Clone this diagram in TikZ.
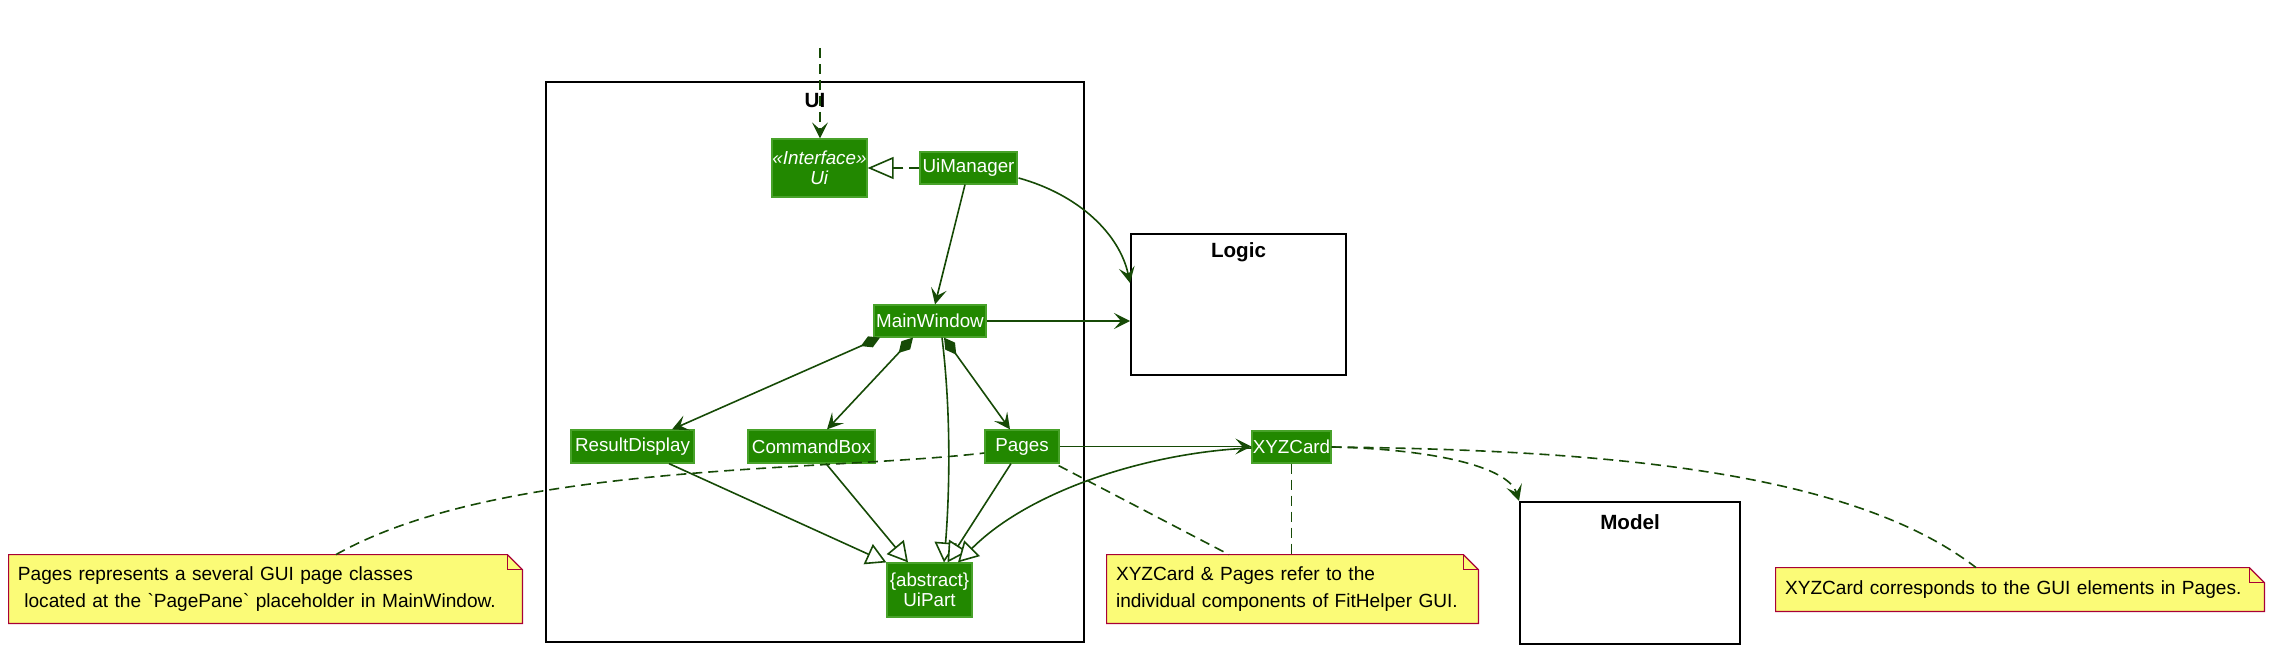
\documentclass[tikz,border=0pt]{standalone}
\usepackage{fontspec}
\setmainfont{Liberation Sans}
\usetikzlibrary{arrows.meta,calc,backgrounds}
\definecolor{umlfill}{RGB}{34,136,0}
\definecolor{umlborder}{RGB}{72,162,42}
\definecolor{arrowc}{RGB}{22,74,6}
\definecolor{notefill}{RGB}{251,251,119}
\definecolor{noteborder}{RGB}{168,0,54}
\begin{document}
\begin{tikzpicture}[x=0.5pt,y=-0.5pt,
  cls/.style={fill=umlfill, draw=umlborder, line width=0.6pt, text=white, inner sep=0pt, align=center, font=\fontsize{9.4}{10}\selectfont},
  pkg/.style={draw=black, line width=1pt, inner sep=0pt},
  pkgtitle/.style={font=\bfseries\fontsize{10.3}{12}\selectfont, inner sep=0pt},
  note/.style={inner xsep=4.5pt, inner ysep=0pt, align=left, font=\fontsize{9.55}{13.3}\selectfont, text=black},
  notebg/.style={fill=notefill, draw=noteborder, line width=0.6pt},
  conn/.style={draw=arrowc, line width=0.8pt},
  dep/.style={conn, dash pattern=on 5pt off 3pt},
  opentip/.style={-{Stealth[length=8pt,width=8pt,inset=3.5pt]}},
  inh/.style={-{Triangle[open,length=10pt,width=11pt,fill=white]}},
  real/.style={-{Triangle[open,length=13pt,width=11pt,fill=white]}},
  comp/.style={{Diamond[length=10.5pt,width=6pt]}-{Stealth[length=8pt,width=8pt,inset=3.5pt]}}
]
\useasboundingbox (0,0) rectangle (2280,658);

% packages
\node[pkg, minimum width=269pt, minimum height=280pt] (UIframe) at (815,362) {};
\node[pkgtitle] (uiT) at ($(UIframe.north)+(0,19.5)$) {UI};
\node[pkg, minimum width=107.5pt, minimum height=70.5pt] (Logic) at (1238.5,304.5) {};
\node[pkgtitle] (logicT) at ($(Logic.north)+(0,19.5)$) {Logic};
\node[pkg, minimum width=110pt, minimum height=71pt] (Model) at (1630,573) {};
\node[pkgtitle] (modelT) at ($(Model.north)+(0,21)$) {Model};

% classes
\node[cls, minimum width=47.5pt, minimum height=29pt] (Ui) at (819.5,168) {\textit{«Interface»}\\\textit{Ui}};
\node[cls, minimum width=48.5pt, minimum height=16pt] (UiManager) at (968.5,168) {UiManager};
\node[cls, minimum width=56pt, minimum height=16pt] (MainWindow) at (930,321) {MainWindow};
\node[cls, minimum width=61.5pt, minimum height=16.5pt] (ResultDisplay) at (632.5,446.5) {ResultDisplay};
\node[cls, minimum width=63.5pt, minimum height=16.5pt] (CommandBox) at (811.5,446.5) {CommandBox};
\node[cls, minimum width=37pt, minimum height=16.5pt] (Pages) at (1022,446.5) {Pages};
\node[cls, minimum width=42.5pt, minimum height=27pt] (UiPart) at (929.5,590) {\{abstract\}\\UiPart};
\node[cls, minimum width=39.5pt, minimum height=16pt] (XYZCard) at (1291.5,447) {XYZCard};

% notes
\node[note, text width=247.5pt, minimum height=34pt] (nL) at (265.5,589) {Pages represents a several GUI page classes\\~located at the \textasciigrave PagePane\textasciigrave{} placeholder in MainWindow.};
\node[note, text width=176.5pt, minimum height=34pt] (nC) at (1292.5,589) {XYZCard \& Pages refer to the\\individual components of FitHelper GUI.};
\node[note, text width=235pt, minimum height=21.5pt] (nR) at (2020,589.5) {XYZCard corresponds to the GUI elements in Pages.};
\begin{scope}[on background layer]
  \foreach \n in {nL,nC,nR}{
    \path[notebg] (\n.north west) -- ($(\n.north east)+(-15,0)$) -- ($(\n.north east)+(0,15)$) -- (\n.south east) -- (\n.south west) -- cycle;
    \draw[noteborder, line width=0.6pt] ($(\n.north east)+(-15,0)$) |- ($(\n.north east)+(0,15)$);
  }
\end{scope}

% connectors
\coordinate (ext) at (820,48);
\draw[dep, opentip] (ext) -- (ext |- Ui.north);
\draw[dep, real] (UiManager.west) -- (Ui.east);
\draw[conn, opentip] ($(UiManager.south)+(-3.5,0)$) -- ($(MainWindow.north)+(5,0)$);
\draw[conn, opentip] ($(UiManager.east)+(1,10)$) .. controls (1080,195) and (1120,235) .. ($(Logic.west)+(0,-21.5)$);
\draw[conn, opentip] (MainWindow.east) -- (MainWindow.east -| Logic.west);

\draw[conn, comp] ($(MainWindow.south)+(-50,0)$) -- ($(ResultDisplay.north)+(39.5,0)$);
\draw[conn, comp] ($(MainWindow.south)+(-17,0)$) -- ($(CommandBox.north)+(15.5,0)$);
\draw[conn, comp] ($(MainWindow.south)+(14,0)$) -- ($(Pages.north)+(-12,0)$);

\draw[conn, inh] ($(MainWindow.south)+(12,0)$) .. controls (952,420) and (949,500) .. ($(UiPart.north)+(14.5,0)$);
\draw[conn, inh] ($(ResultDisplay.south)+(36.5,0)$) -- (UiPart.north west);
\draw[conn, inh] ($(CommandBox.south)+(14.5,0)$) -- ($(UiPart.north)+(-21.5,0)$);
\draw[conn, inh] ($(Pages.south)+(-11,0)$) -- ($(UiPart.north)+(18,0)$);
\draw[conn, inh] ($(XYZCard.west)+(0,1)$) .. controls (1150,452) and (1030,490) .. ($(UiPart.north)+(28.5,0)$);

\draw[conn, opentip] (Pages.east) -- (Pages.east -| XYZCard.west);
\draw[dep, opentip] (XYZCard.east) .. controls (1430,449) and (1508,466) .. (Model.north west);

\draw[dep] ($(nL.north)+(70.5,0)$) .. controls (500,462) and (820,472) .. ($(Pages.west)+(0,6.5)$);
\draw[dep] ($(Pages.south east)+(-1,2)$) -- ($(nC.north)+(-63.5,0)$);
\draw[dep] (XYZCard.south) -- (XYZCard.south |- nC.north);
\draw[dep] (XYZCard.east) .. controls (1600,450) and (1850,470) .. ($(nR.north)+(-44,0)$);
\end{tikzpicture}
\end{document}
